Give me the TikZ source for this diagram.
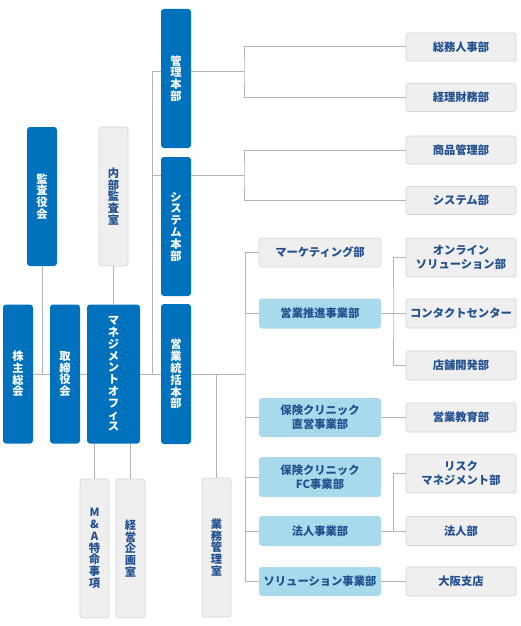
\documentclass[tikz,border=0pt]{standalone}
\usepackage{fontspec}
\setmainfont{Noto Sans CJK JP}
\definecolor{dblue}{HTML}{0071BC}
\definecolor{lblue}{HTML}{A8DAEC}
\definecolor{gfill}{HTML}{EFEFEF}
\definecolor{gline}{HTML}{D6D6D6}
\definecolor{navy}{HTML}{22508F}
\definecolor{lineg}{HTML}{B3B3B3}
\tikzset{
  box/.style={rounded corners=3pt, inner sep=0pt, align=center},
  vfont/.style={font=\fontsize{11.3}{11.8}\selectfont\bfseries},
  hfont/.style={font=\fontsize{11.3}{14}\selectfont\bfseries},
  db/.style={box, vfont, fill=dblue, text=white, minimum width=30, minimum height=139},
  gv/.style={box, vfont, fill=gfill, draw=gline, line width=0.8pt, text=navy, minimum width=29, minimum height=139},
  gh/.style={box, hfont, fill=gfill, draw=gline, line width=0.8pt, text=navy, minimum width=110},
  lb/.style={box, hfont, fill=lblue, text=navy, minimum width=122},
  conn/.style={draw=lineg, line width=1pt}
}
\begin{document}
\begin{tikzpicture}[x=1pt,y=-1pt]
\useasboundingbox (0,0) rectangle (520,626);
% left blocks
\node[db] (kansa) at (42,196.5) {監\\査\\役\\会};
\node[gv] (naibu) at (113.5,196.5) {内\\部\\監\\査\\室};
\node[db] (kabunushi) at (18,374) {株\\主\\総\\会};
\node[db] (torishimari) at (65,374) {取\\締\\役\\会};
\node[db, minimum width=53] (mgmt) at (113.5,374) {マ\\ネ\\ジ\\メ\\ン\\ト\\オ\\フ\\ィ\\ス};
\node[gv] (ma) at (94.5,548.5) {M\\\&\\A\\特\\命\\事\\項};
\node[gv] (keiei) at (130.5,548.5) {経\\営\\企\\画\\室};
% headquarters
\node[db] (kanri) at (176,78.5) {管\\理\\本\\部};
\node[db] (system) at (176,226.5) {シ\\ス\\テ\\ム\\本\\部};
\node[db, minimum height=140] (eigyo) at (176,374) {営\\業\\統\\括\\本\\部};
\node[gv] (gyomu) at (216.5,547.5) {業\\務\\管\\理\\室};
% middle column
\node[gh, minimum width=122, minimum height=29] (marketing) at (320,252.5) {マーケティング部};
\node[lb, minimum height=30] (suishin) at (320,313.5) {営業推進事業部};
\node[lb, minimum height=39] (chokuei) at (320,417.5) {保険クリニック\\直営事業部};
\node[lb, minimum height=40] (fc) at (320,477) {保険クリニック\\FC事業部};
\node[lb, minimum height=30] (hojin) at (320,531) {法人事業部};
\node[lb, minimum height=29] (solution) at (320,581.5) {ソリューション事業部};
% right column
\node[gh, minimum height=28] (somu) at (461,47) {総務人事部};
\node[gh, minimum height=28] (keiri) at (461,97.5) {経理財務部};
\node[gh, minimum height=28] (shohin) at (461,150) {商品管理部};
\node[gh, minimum height=28] (sysbu) at (461,200.5) {システム部};
\node[gh, minimum height=39] (online) at (461,257.5) {オンライン\\ソリューション部};
\node[gh, minimum height=29] (contact) at (461,313.5) {コンタクトセンター};
\node[gh, minimum height=29] (tenpo) at (461,365.5) {店舗開発部};
\node[gh, minimum height=29] (kyoiku) at (461,417.5) {営業教育部};
\node[gh, minimum height=39] (risk) at (461,473.5) {リスク\\マネジメント部};
\node[gh, minimum height=29] (hojinbu) at (461,531) {法人部};
\node[gh, minimum height=29] (osaka) at (461,581.5) {大阪支店};
% junction coordinates
\coordinate (v1) at (152,71);
\coordinate (v2) at (152,175);
\coordinate (tk) at (152,374);
\coordinate (kj) at (244,71);
\coordinate (sj) at (244,175);
\coordinate (ej) at (245,374);
\coordinate (pj) at (393,313.5);
\coordinate (hj) at (393,531);
% connectors
\begin{scope}[on background layer/.try]
\draw[conn] (kabunushi.east) -- (torishimari.west);
\draw[conn] (torishimari.east) -- (mgmt.west);
\draw[conn] (mgmt.east) -- (eigyo.west);
\draw[conn] (eigyo.east) -- (ej);
\draw[conn] (kansa.south) -- (kansa.south |- kabunushi.east);
\draw[conn] (naibu.south) -- (naibu.south |- mgmt.north);
\draw[conn] (ma.north) -- (ma.north |- mgmt.south);
\draw[conn] (keiei.north) -- (keiei.north |- mgmt.south);
\draw[conn] (gyomu.north) -- (gyomu.north |- eigyo.east);
\draw[conn] (kanri.west |- v1) -- (v1) -- (tk);
\draw[conn] (v2) -- (system.west |- v2);
\draw[conn] (kanri.east |- kj) -- (kj);
\draw[conn] (somu.west) -| (kj) |- (keiri.west);
\draw[conn] (system.east |- sj) -- (sj);
\draw[conn] (shohin.west) -| (sj) |- (sysbu.west);
\draw[conn] (marketing.west) -| (ej) |- (solution.west);
\draw[conn] (ej |- suishin.west) -- (suishin.west);
\draw[conn] (ej |- chokuei.west) -- (chokuei.west);
\draw[conn] (ej |- fc.west) -- (fc.west);
\draw[conn] (ej |- hojin.west) -- (hojin.west);
\draw[conn] (suishin.east) -- (contact.west);
\draw[conn] (online.west) -| (pj) |- (tenpo.west);
\draw[conn] (chokuei.east) -- (kyoiku.west);
\draw[conn] (hojin.east) -- (hojinbu.west);
\draw[conn] (risk.west) -| (hj);
\draw[conn] (solution.east) -- (osaka.west);
\end{scope}
\end{tikzpicture}
\end{document}
